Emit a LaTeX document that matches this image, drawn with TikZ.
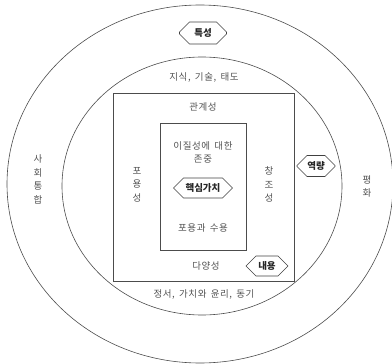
\documentclass[tikz,border=0pt]{standalone}
\usepackage{fontspec}
\setmainfont{Noto Sans CJK KR}
\newfontfamily\spacedkr{Noto Sans CJK KR}[LetterSpace=6.0, WordSpace=1.6]
\usetikzlibrary{shapes.misc,shapes.geometric}
\begin{document}
\begin{tikzpicture}[x=1pt,y=-1pt,
  shapeline/.style={draw=black!70, line width=0.6pt},
  ring/.style={shapeline, ellipse, inner sep=0pt},
  frame/.style={shapeline, rectangle, inner sep=0pt},
  lbl/.style={text=black!68, inner sep=0pt, font=\spacedkr\fontsize{9.5}{11}\selectfont},
  vlbl/.style={text=black!68, inner sep=0pt, align=center, font=\spacedkr\fontsize{9.5}{13.6}\selectfont},
  tag/.style={chamfered rectangle, chamfered rectangle xsep=5.5pt, chamfered rectangle ysep=5.5pt,
    draw=black!75, line width=0.6pt, text=black!85, inner sep=0pt,
    font=\fontsize{9.5}{11}\selectfont\bfseries}]
\useasboundingbox (0,0) rectangle (392,364);
% rings and frames
\node[ring, minimum width=386pt, minimum height=358pt] (outer) at (200,184) {};
\node[ring, minimum width=280pt, minimum height=258pt] (inner) at (202,186) {};
\node[frame, minimum width=181pt, minimum height=188pt] (boxout) at (203.5,187) {};
\node[frame, minimum width=86pt, minimum height=127pt] (boxin) at (203,186.5) {};
% tags
\node[tag, minimum width=47pt, minimum height=22pt] (trait) at (203,33) {특성};
\node[tag, minimum width=59pt, minimum height=17pt] (core) at (203,188) {핵심가치};
\node[tag, minimum width=42pt, minimum height=17pt] (content) at (267,266) {내용};
\node[tag, minimum width=38pt, minimum height=21pt] (competence) at (316,166) {역량};
% labels
\node[lbl] (ksa) at (204,77) {지식, 기술, 태도};
\node[lbl] (rel) at (203,107) {관계성};
\node[vlbl] (respect) at (203,152.5) {이질성에 대한\\존중};
\node[lbl] (accept) at (203,228) {포용과 수용};
\node[lbl] (div) at (206,266) {다양성};
\node[lbl] (emo) at (204,294) {정서, 가치와 윤리, 동기};
\node[vlbl] (incl) at (137,184.5) {포\\용\\성};
\node[vlbl] (crea) at (269,184.5) {창\\조\\성};
\node[vlbl] (soc) at (38,179.5) {사\\회\\통\\합};
\node[vlbl] (peace) at (367,186.5) {평\\화};
\end{tikzpicture}
\end{document}
